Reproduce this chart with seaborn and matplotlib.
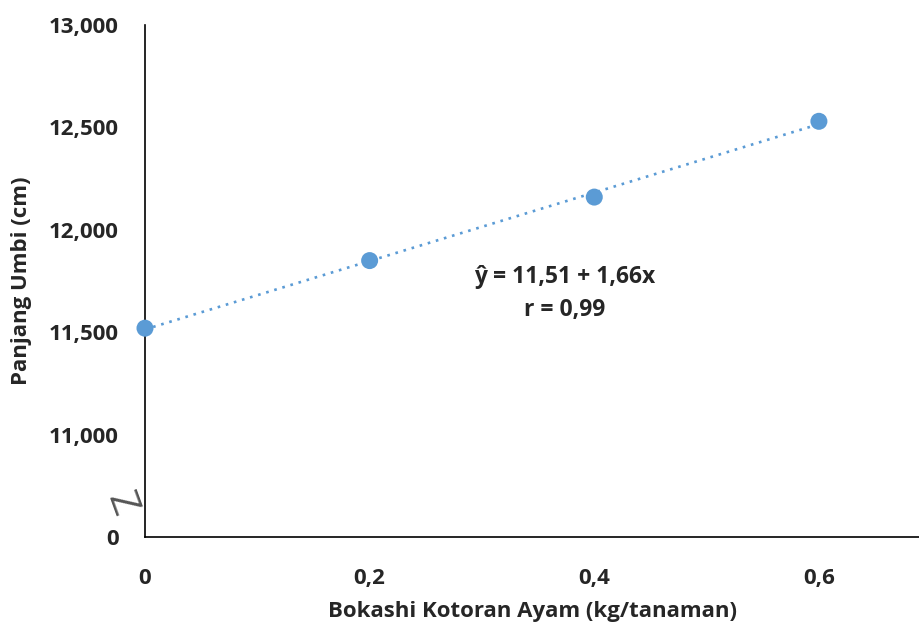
import numpy as np
import pandas as pd
import seaborn as sns
import matplotlib.pyplot as plt

sns.set_style("white")
plt.rcParams['font.family'] = ['Open Sans', 'DejaVu Sans']

# data (panjang umbi, cm)
dosis = [0.0, 0.2, 0.4, 0.6]
panjang = [11.52, 11.85, 12.16, 12.53]
x_ticks = [0.0, 0.2, 0.4, 0.6]
x_labels = ['0', '0,2', '0,4', '0,6']
y_ticks = [10.5, 11.0, 11.5, 12.0, 12.5, 13.0]
y_labels = ['0', '11,000', '11,500', '12,000', '12,500', '13,000']

df = pd.DataFrame({'dosis': dosis, 'panjang': panjang})
warna = '#5B9BD5'

fig = plt.figure(figsize=(9.2, 6.26), dpi=100)
ax = fig.add_axes([0.1576, 0.142, 0.8424, 0.818])

sns.regplot(data=df, x='dosis', y='panjang', ci=None, ax=ax, color=warna,
            scatter_kws={'s': 150, 'alpha': 1, 'edgecolor': 'none', 'zorder': 3,
                         'clip_on': False},
            line_kws={'linestyle': (0, (1, 2.2)), 'linewidth': 1.9, 'zorder': 2})

ax.set_xlim(0, 0.69)
ax.set_ylim(10.5, 13.0)
ax.set_xticks(x_ticks)
ax.set_xticklabels(x_labels)
ax.set_yticks(y_ticks)
ax.set_yticklabels(y_labels)
ax.tick_params(axis='both', length=0, labelsize=16)
ax.tick_params(axis='y', pad=19)
ax.tick_params(axis='x', pad=22)
for lbl in ax.get_xticklabels() + ax.get_yticklabels():
    lbl.set_fontweight('bold')

sns.despine(ax=ax)
ax.spines['left'].set_color('black')
ax.spines['bottom'].set_color('black')
ax.spines['left'].set_linewidth(1.2)
ax.spines['bottom'].set_linewidth(1.2)

ax.set_xlabel('Bokashi Kotoran Ayam (kg/tanaman)', fontsize=16, fontweight='bold', labelpad=9)
ax.set_ylabel('Panjang Umbi (cm)', fontsize=16, fontweight='bold', labelpad=12)

ax.text(0.374, 11.77, 'ŷ = 11,51 + 1,66x', ha='center', va='center',
        fontsize=16.5, fontweight='bold')
ax.text(0.374, 11.61, 'r = 0,99', ha='center', va='center',
        fontsize=16.5, fontweight='bold')

# tanda patahan sumbu
ax.text(-0.031, 0.064, 'Z', transform=ax.transAxes, ha='center', va='center',
        fontsize=28, color='#555555', rotation=-70, clip_on=False)

fig.savefig('out.png', dpi=100)
